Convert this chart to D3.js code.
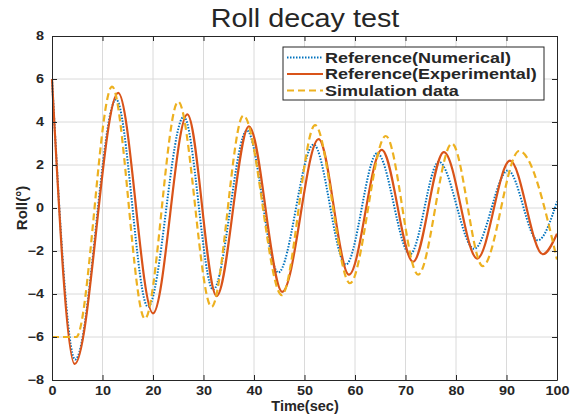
<!DOCTYPE html>
<html>
<head>
<meta charset="utf-8">
<script src="https://cdn.jsdelivr.net/npm/d3@7"></script>
<style>
  body { margin: 0; background: #fff; }
  text { font-family: Arial, "Liberation Sans", sans-serif; fill: #262626; }
</style>
</head>
<body>
<svg id="chart" width="572" height="414"></svg>
<script>
// Reference (numerical) - extrema
var timeNum = [0, 4.6, 12.7, 19.0, 26.1, 31.9, 38.6, 44.8, 51.8, 58.2, 64.4, 70.9, 76.6, 83.6, 90.3, 96.2, 100];
var rollNum = [6.0, -7.05, 5.05, -4.6, 4.25, -3.8, 3.6, -3.0, 2.95, -2.63, 2.55, -2.15, 2.15, -1.9, 1.75, -1.5, 0.3];

// Reference (experimental)
var timeExp = [0, 4.5, 13.1, 20.0, 26.8, 32.6, 39.0, 45.6, 52.8, 58.8, 65.3, 71.5, 77.6, 84.2, 90.7, 97.2, 100];
var rollExp = [6.0, -7.25, 5.35, -4.9, 4.35, -4.1, 3.8, -3.9, 3.2, -3.1, 2.7, -2.5, 2.6, -2.35, 2.2, -2.15, -1.2];

// Simulation data
var timeSim = [0, 4.8, 11.9, 18.4, 25.0, 31.6, 37.9, 45.5, 52.1, 59.0, 66.1, 72.5, 79.2, 85.3, 92.5, 100];
var rollSim = [-6.0, -6.0, 5.65, -5.15, 4.95, -4.6, 4.3, -4.05, 3.85, -3.5, 3.35, -3.1, 3.0, -2.7, 2.65, -2.4];

var xTicks = [0, 10, 20, 30, 40, 50, 60, 70, 80, 90, 100];
var yTicks = [-8, -6, -4, -2, 0, 2, 4, 6, 8];

var seriesNames = ["Reference(Numerical)", "Reference(Experimental)", "Simulation data"];

var svg = d3.select("#chart");
var plotL = 52, plotR = 557, plotT = 36, plotB = 380;

var x = d3.scaleLinear().domain([0, 100]).range([plotL, plotR]);
var y = d3.scaleLinear().domain([-8, 8]).range([plotB, plotT]);

// the reference picture is a bit wider than tall, so stretch the text a little
var stretchText = function(sel, factor) {
    sel.each(function() {
        var w = this.getComputedTextLength();
        d3.select(this).attr("textLength", w * factor).attr("lengthAdjust", "spacingAndGlyphs");
    });
}

// grid
svg.append("g").selectAll("line").data(xTicks.slice(1, -1)).enter().append("line")
    .attr("x1", d => x(d)).attr("x2", d => x(d)).attr("y1", plotT).attr("y2", plotB)
    .attr("stroke", "#dadada").attr("stroke-width", 1);
svg.append("g").selectAll("line").data(yTicks.slice(1, -1)).enter().append("line")
    .attr("y1", d => y(d)).attr("y2", d => y(d)).attr("x1", plotL).attr("x2", plotR)
    .attr("stroke", "#dadada").attr("stroke-width", 1);

// lines
var line = d3.line().x(d => x(d[0])).y(d => y(d[1])).curve(d3.curveMonotoneX);
var numData = timeNum.map((t, i) => [t, rollNum[i]]);
var expData = timeExp.map((t, i) => [t, rollExp[i]]);
var simData = timeSim.map((t, i) => [t, rollSim[i]]);

var plot = svg.append("g");
plot.append("path").datum(numData).attr("d", line)
    .attr("fill", "none").attr("stroke", "#0072BD").attr("stroke-width", 2).attr("stroke-dasharray", "1.5,1.5");
plot.append("path").datum(expData).attr("d", line)
    .attr("fill", "none").attr("stroke", "#D95319").attr("stroke-width", 2.2);
plot.append("path").datum(simData).attr("d", line)
    .attr("fill", "none").attr("stroke", "#EDB120").attr("stroke-width", 2.2).attr("stroke-dasharray", "7,4");

// axes (ticks inward, on all four sides)
var xAxis = svg.append("g").attr("transform", "translate(0," + plotB + ")")
    .call(d3.axisBottom(x).tickValues(xTicks).tickSizeInner(-5).tickSizeOuter(0).tickPadding(6));
var xTop = svg.append("g").attr("transform", "translate(0," + plotT + ")")
    .call(d3.axisTop(x).tickValues(xTicks).tickSizeInner(-5).tickSizeOuter(0).tickFormat(""));
var yAxis = svg.append("g").attr("transform", "translate(" + plotL + ",0)")
    .call(d3.axisLeft(y).tickValues(yTicks).tickSizeInner(-5).tickSizeOuter(0).tickPadding(8));
var yRight = svg.append("g").attr("transform", "translate(" + plotR + ",0)")
    .call(d3.axisRight(y).tickValues(yTicks).tickSizeInner(-5).tickSizeOuter(0).tickFormat(""));

[xAxis, xTop, yAxis, yRight].forEach(g => {
    g.selectAll("path").attr("stroke", "#262626");
    g.selectAll("line").attr("stroke", "#262626");
    g.selectAll("text").style("font-size", "12px").style("font-weight", "bold")
        .style("font-family", "Arial, 'Liberation Sans', sans-serif").attr("fill", "#262626");
});
stretchText(xAxis.selectAll("text"), 1.2);
stretchText(yAxis.selectAll("text"), 1.2);

// title and labels
var title = svg.append("text").attr("x", 305).attr("y", 27).attr("text-anchor", "middle")
    .style("font-size", "25px").text("Roll decay test");
stretchText(title, 1.15);
svg.append("text").attr("x", 305).attr("y", 411).attr("text-anchor", "middle")
    .style("font-size", "14.5px").style("font-weight", "bold").text("Time(sec)");
svg.append("text").attr("transform", "translate(27,208) rotate(-90)").attr("text-anchor", "middle")
    .style("font-size", "15px").style("font-weight", "bold").text("Roll(°)");

// legend
var legend = svg.append("g");
legend.append("rect").attr("x", 283).attr("y", 47).attr("width", 261).attr("height", 53)
    .attr("fill", "#fff").attr("stroke", "#262626").attr("stroke-width", 1);
var legendStyles = [
    {color: "#0072BD", dash: "1.5,1.5"},
    {color: "#D95319", dash: null},
    {color: "#EDB120", dash: "7,4"}
];
seriesNames.forEach((name, i) => {
    var ly = 57.5 + i * 16.5;
    legend.append("line").attr("x1", 287).attr("x2", 323).attr("y1", ly).attr("y2", ly)
        .attr("stroke", legendStyles[i].color).attr("stroke-width", 2)
        .attr("stroke-dasharray", legendStyles[i].dash);
    var t = legend.append("text").attr("x", 325).attr("y", ly).attr("dy", "0.36em")
        .style("font-size", "14.5px").style("font-weight", "bold").text(name);
    stretchText(t, 1.24);
});
</script>
</body>
</html>
